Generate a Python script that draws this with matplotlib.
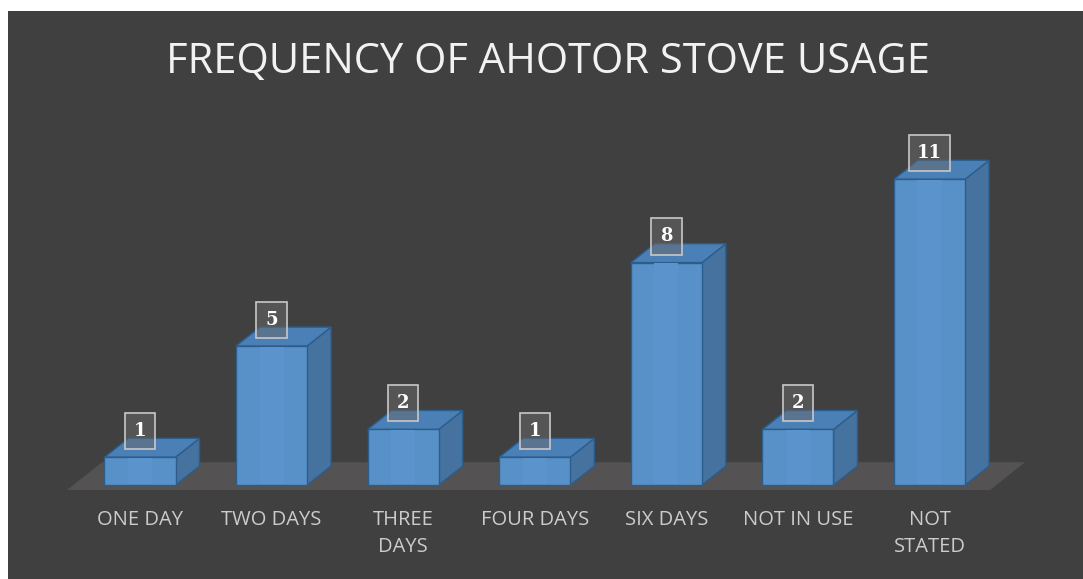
import matplotlib.pyplot as plt
from matplotlib.patches import Polygon, Rectangle

# data
categories = ["ONE DAY", "TWO DAYS", "THREE\nDAYS", "FOUR DAYS", "SIX DAYS", "NOT IN USE", "NOT\nSTATED"]
counts = [1, 5, 2, 1, 8, 2, 11]

# colours
bg = "#404040"
front_c = "#5890c8"
top_c = "#4a80b6"
side_c = "#46729f"
edge_c = "#2b5d8d"
floor_c = "#545252"

# 3d look (data units)
bar_w = 0.54
dx, dy = 0.182, 0.68
floor_dx, floor_dy = 0.266, 1.0

fig = plt.figure(figsize=(10.83, 5.79), dpi=100)
fig.patch.set_facecolor("white")

ax = fig.add_axes([8 / 1083, 0, 1075 / 1083, 568 / 579])
ax.set_facecolor(bg)
ax.set_xlim(-1.003, 7.166)
ax.set_ylim(-3.38, 17.05)
ax.set_xticks([])
ax.set_yticks([])
for s in ax.spines.values():
    s.set_visible(False)

# floor
x0, x1 = -0.555, len(counts) - 1 + 0.46
y0 = -0.18
ax.add_patch(Polygon([(x0, y0), (x1, y0), (x1 + floor_dx, y0 + floor_dy), (x0 + floor_dx, y0 + floor_dy)],
                     closed=True, facecolor=floor_c, edgecolor="none", zorder=1))

for i, (cat, v) in enumerate(zip(categories, counts)):
    l, r = i - bar_w / 2, i + bar_w / 2
    # side
    ax.add_patch(Polygon([(r, 0), (r + dx, dy), (r + dx, v + dy), (r, v)], closed=True,
                         facecolor=side_c, edgecolor=edge_c, lw=1, zorder=2))
    # top
    ax.add_patch(Polygon([(l, v), (r, v), (r + dx, v + dy), (l + dx, v + dy)], closed=True,
                         facecolor=top_c, edgecolor=edge_c, lw=1, zorder=2))
    # front
    ax.add_patch(Rectangle((l, 0), bar_w, v, facecolor=front_c, edgecolor=edge_c, lw=1, zorder=3))
    ax.add_patch(Rectangle((l + bar_w * 0.33, 0.03), bar_w * 0.34, v - 0.06, facecolor="#5b94cc",
                           edgecolor="none", zorder=3))
    # value label box + text
    bw = 0.23 if v < 10 else 0.31
    bh = 1.3
    ax.add_patch(Rectangle((i - bw / 2, v + 0.94 - bh / 2), bw, bh, facecolor="#6a6a6a", alpha=0.5,
                           edgecolor="none", zorder=4))
    ax.add_patch(Rectangle((i - bw / 2, v + 0.94 - bh / 2), bw, bh, facecolor="none",
                           edgecolor="#c8c8c8", lw=1.2, zorder=4))
    ax.text(i, v + 0.94, str(v), ha="center", va="center", color="white", fontsize=13,
            fontweight="bold", family="DejaVu Serif", zorder=5)
    # category label
    ax.text(i, -0.9, cat, ha="center", va="top", color="#cccccc", fontsize=14.5,
            family="Open Sans", linespacing=1.45, zorder=5)

fig.text(548 / 1083, 1 - 62 / 579, "FREQUENCY OF AHOTOR STOVE USAGE", ha="center", va="center",
         color="#f2f2f2", fontsize=30, family="Open Sans")

fig.savefig("out.png", dpi=100, facecolor=fig.get_facecolor())
